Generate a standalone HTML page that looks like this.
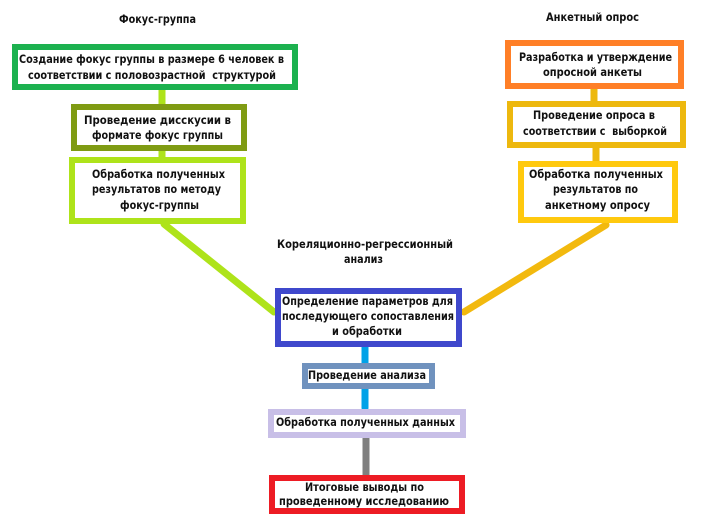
<!DOCTYPE html>
<html>
<head>
<meta charset="utf-8">
<style>
html,body{margin:0;padding:0;background:#fff;width:709px;height:525px;overflow:hidden}
svg{display:block;filter:blur(.3px)}
text{font-family:"DejaVu Sans","Liberation Sans",sans-serif;font-weight:700;font-size:11.2px;fill:#111}
</style>
</head>
<body>
<svg width="709" height="525" viewBox="0 0 709 525" xmlns="http://www.w3.org/2000/svg">
<g fill="none" stroke-width="7">
<line x1="162" y1="90" x2="162" y2="105" stroke="#AEE31A"/>
<line x1="162" y1="151" x2="162" y2="158" stroke="#AEE31A"/>
<line x1="594" y1="87" x2="594" y2="102" stroke="#EDB80E"/>
<line x1="596" y1="147" x2="596" y2="162" stroke="#EDB80E"/>
<line x1="164" y1="224" x2="274" y2="312" stroke="#AEE31A" stroke-linecap="round"/>
<line x1="606" y1="225" x2="464" y2="312" stroke="#F2B90E" stroke-linecap="round"/>
<line x1="365" y1="347" x2="365" y2="364" stroke="#00A2E8" stroke-linecap="round"/>
<line x1="365" y1="389" x2="365" y2="408" stroke="#00A2E8" stroke-linecap="round"/>
<line x1="366" y1="438" x2="366" y2="475" stroke="#7F7F7F"/>
</g>
<g fill="#fff" stroke-width="6">
<rect x="15" y="47" width="280" height="40" stroke="#1CB14F"/>
<rect x="74" y="107" width="170" height="41" stroke="#7F9B13"/>
<rect x="72" y="160" width="171" height="61" stroke="#AEE31A"/>
<rect x="508" y="43" width="173" height="43" stroke="#FF7F27"/>
<rect x="510" y="104" width="173" height="41" stroke="#EDB80E"/>
<rect x="521" y="164" width="154" height="56" stroke="#FFC90E"/>
<rect x="278" y="291" width="181" height="53" stroke="#3F48CC"/>
<rect x="305" y="366" width="127" height="20" stroke="#7092BE"/>
<rect x="271" y="412" width="192" height="23" stroke="#C8BFE7"/>
<rect x="272" y="478" width="190" height="33" stroke="#ED1C24"/>
</g>
<text x="119" y="23" textLength="77" lengthAdjust="spacingAndGlyphs">Фокус-группа</text>
<text x="546" y="21" textLength="93" lengthAdjust="spacingAndGlyphs">Анкетный опрос</text>
<text x="277" y="248" textLength="176" lengthAdjust="spacingAndGlyphs">Кореляционно-регрессионный</text>
<text x="344" y="263" textLength="39" lengthAdjust="spacingAndGlyphs">анализ</text>

<text x="19" y="63" textLength="265" lengthAdjust="spacingAndGlyphs">Создание фокус группы в размере 6 человек в</text>
<text x="28" y="79" textLength="248" lengthAdjust="spacingAndGlyphs" xml:space="preserve">соответствии с половозрастной  структурой</text>
<text x="84" y="124" textLength="147" lengthAdjust="spacingAndGlyphs">Проведение дисскусии в</text>
<text x="92" y="139" textLength="131" lengthAdjust="spacingAndGlyphs">формате фокус группы</text>
<text x="92" y="178" textLength="133" lengthAdjust="spacingAndGlyphs">Обработка полученных</text>
<text x="92" y="193" textLength="129" lengthAdjust="spacingAndGlyphs">результатов по методу</text>
<text x="120" y="209" textLength="79" lengthAdjust="spacingAndGlyphs">фокус-группы</text>

<text x="519" y="61" textLength="153" lengthAdjust="spacingAndGlyphs">Разработка и утверждение</text>
<text x="543" y="76" textLength="99" lengthAdjust="spacingAndGlyphs">опросной анкеты</text>
<text x="533" y="119" textLength="122" lengthAdjust="spacingAndGlyphs">Проведение опроса в</text>
<text x="523" y="135" textLength="144" lengthAdjust="spacingAndGlyphs" xml:space="preserve">соответствии с  выборкой</text>
<text x="529" y="178" textLength="134" lengthAdjust="spacingAndGlyphs">Обработка полученных</text>
<text x="553" y="193" textLength="85" lengthAdjust="spacingAndGlyphs">результатов по</text>
<text x="545" y="209" textLength="105" lengthAdjust="spacingAndGlyphs">анкетному опросу</text>

<text x="282" y="305" textLength="171" lengthAdjust="spacingAndGlyphs">Определение параметров для</text>
<text x="282" y="320" textLength="172" lengthAdjust="spacingAndGlyphs">последующего сопоставления</text>
<text x="332" y="335" textLength="70" lengthAdjust="spacingAndGlyphs">и обработки</text>
<text x="308" y="379" textLength="118" lengthAdjust="spacingAndGlyphs">Проведение анализа</text>
<text x="276" y="426" textLength="179" lengthAdjust="spacingAndGlyphs">Обработка полученных данных</text>
<text x="305" y="491" textLength="119" lengthAdjust="spacingAndGlyphs">Итоговые выводы по</text>
<text x="279" y="505" textLength="170" lengthAdjust="spacingAndGlyphs">проведенному исследованию</text>
</svg>
</body>
</html>
